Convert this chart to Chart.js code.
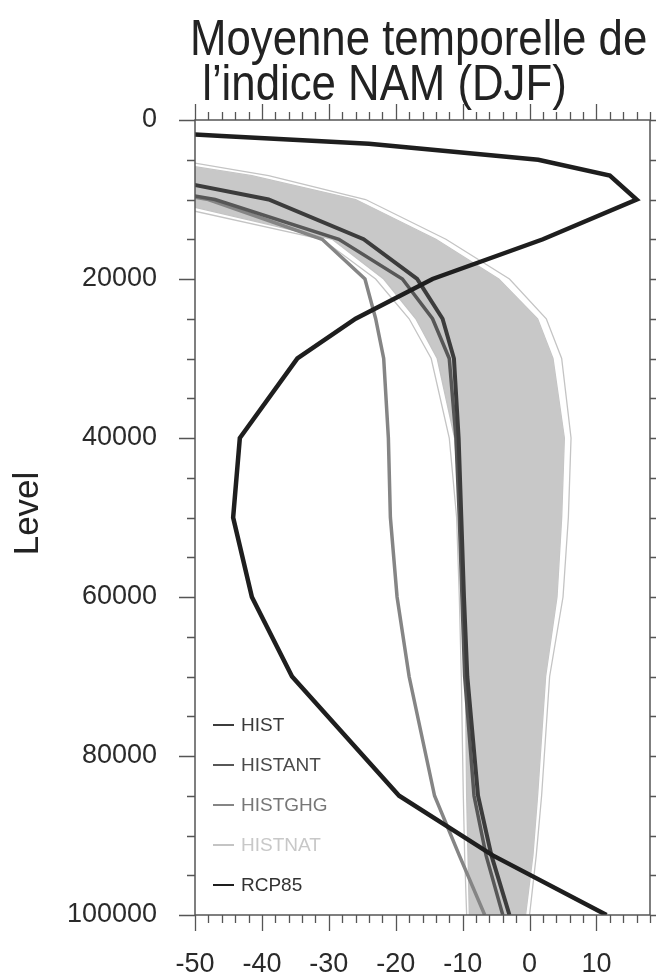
<!DOCTYPE html>
<html lang="fr">
<head>
<meta charset="UTF-8">
<title>Moyenne temporelle de l’indice NAM (DJF)</title>
<script src="https://cdn.jsdelivr.net/npm/chart.js"></script>
<style>
  body { margin: 0; background: #fff; }
  canvas { display: block; }
</style>
</head>
<body>
<canvas id="namChart" width="656" height="979"></canvas>
<script>
// --- data ---
const titleLines = ['Moyenne temporelle de', ' l’indice NAM (DJF)'];
const yTitle = 'Level';
const xTicks = [-50, -40, -30, -20, -10, 0, 10];
const yTicks = [0, 20000, 40000, 60000, 80000, 100000];
// pressure levels, top of the plot to bottom
const levels = [1000, 2000, 3000, 5000, 7000, 10000, 15000, 20000, 25000, 30000, 40000, 50000, 60000, 70000, 85000, 92500, 100000];

const rcp85   = [-70, -46, -24, 1.3, 12, 16, 2, -14.5, -26, -34.7, -43.3, -44.3, -41.5, -35.5, -19.5, -5.5, 11.5];
const hist    = [-105, -95, -85, -72, -57, -39, -24.8, -16.8, -13, -11.3, -10.6, -10.2, -9.8, -9.3, -7.7, -5.7, -3];
const histAnt = [-115, -105, -95, -82, -68, -47, -28.5, -19, -14.5, -12, -11, -10.5, -10.1, -9.7, -8.3, -6.5, -4];
const histGhg = [-118, -108, -98, -85, -70, -48, -31, -24.6, -23, -21.8, -21.1, -20.8, -19.8, -18, -14.2, -10.5, -6.7];

// HISTNAT members (light grey spread)
const nat01 = [-130, -120, -110, -95, -80, -58, -31, -23, -18, -14.7, -12, -10.9, -10.5, -10.2, -9.9, -9.7, -9.4];
const nat02 = [-127, -117, -107, -92, -77, -55, -29.5, -21.8, -17, -13.8, -11.2, -10.3, -9.9, -9.6, -9.4, -9.2, -9];
const nat03 = [-123, -113, -103, -88, -73, -51, -27.5, -20.5, -15.5, -12.5, -10, -9.1, -8.8, -8.6, -8.3, -8.1, -8];
const nat04 = [-120, -110, -100, -84, -69, -47, -26, -18.5, -13.6, -10.8, -8.4, -7.6, -7.3, -7.2, -6.9, -6.8, -7];
const nat05 = [-116, -106, -96, -80, -65, -43, -24, -16.5, -11.6, -8.8, -6.5, -5.8, -5.5, -5.6, -5.5, -5.5, -6];
const nat06 = [-112, -102, -92, -76, -61, -40, -22, -14.5, -9.5, -6.8, -4.6, -4, -3.8, -4, -4.1, -4.3, -5];
const nat07 = [-108, -98, -88, -72, -57, -37, -20.5, -12.5, -7.5, -4.8, -2.7, -2.2, -2.1, -2.5, -2.8, -3.2, -4];
const nat08 = [-105, -95, -85, -68, -53, -34, -19, -10.5, -5.4, -2.8, -0.8, -0.4, -0.4, -1, -1.4, -2, -3];
const nat09 = [-101, -91, -81, -64, -49, -31, -17.5, -8.5, -3.4, -0.8, 1.2, 1.5, 1.3, 0.4, -0.3, -1, -2];
const nat10 = [-97, -87, -77, -60, -45, -28.5, -16, -6.6, -1.2, 1.3, 3.3, 3.4, 2.9, 1.6, 0.6, -0.1, -1.2];
const nat11 = [-93, -83, -73, -56.5, -41.5, -26, -14, -4.6, 1.2, 3.5, 5.2, 4.8, 4.1, 2.4, 1.2, 0.5, -0.6];
const nat12 = [-90, -80, -70, -53, -39, -24.5, -12.5, -3, 2.5, 4.8, 6.2, 5.8, 5, 3, 1.8, 1, 0];
const natMembers = [nat01, nat02, nat03, nat04, nat05, nat06, nat07, nat08, nat09, nat10, nat11, nat12];

const legendOrder = ['HIST', 'HISTANT', 'HISTGHG', 'HISTNAT', 'RCP85'];

// --- styles ---
const colours = {
  HIST: '#3c3c3c',
  HISTANT: '#575757',
  HISTGHG: '#858585',
  HISTNAT: '#c4c4c4',
  RCP85: '#1e1e1e'
};
const legendText = {
  HIST: '#3a3a3a', HISTANT: '#4a4a4a', HISTGHG: '#777777', HISTNAT: '#c8c8c8', RCP85: '#333333'
};
const FONT = '"Liberation Sans", Arial, Helvetica, sans-serif';
Chart.defaults.font.family = FONT;

function profile(label, vals, width, order, extra) {
  return Object.assign({
    label: label,
    data: levels.map((p, i) => ({ x: vals[i], y: p })),
    borderColor: colours[label],
    borderWidth: width,
    pointRadius: 0,
    tension: 0,
    fill: false,
    order: order
  }, extra || {});
}

const datasets = [
  profile('RCP85', rcp85, 4.5, 0),
  profile('HIST', hist, 4, 1),
  profile('HISTANT', histAnt, 3.5, 2),
  profile('HISTGHG', histGhg, 3.5, 3)
];
const firstNat = datasets.length;
natMembers.forEach((m, k) => {
  const extra = {};
  // fill the spread between the 2nd and the 2nd-to-last member
  if (k === 1) {
    extra.fill = { target: firstNat + natMembers.length - 2 };
    extra.backgroundColor = '#c8c8c8';
  }
  datasets.push(profile('HISTNAT', m, 1.3, 10, extra));
});

// frame, minor/major ticks, title, axis title and in-plot legend
const decorations = {
  id: 'decorations',
  afterDraw(chart) {
    const { ctx, chartArea: a, scales: { x, y } } = chart;
    ctx.save();
    ctx.strokeStyle = '#555';
    ctx.lineWidth = 1.5;
    ctx.strokeRect(a.left, a.top, a.right - a.left, a.bottom - a.top);

    ctx.lineWidth = 1.3;
    ctx.beginPath();
    for (let v = x.min; v <= x.max; v += 2) {
      const px = Math.round(x.getPixelForValue(v)) + 0.5;
      const len = v % 10 === 0 ? 16 : 8;
      ctx.moveTo(px, a.top); ctx.lineTo(px, a.top - len);
      ctx.moveTo(px, a.bottom); ctx.lineTo(px, a.bottom + len);
    }
    for (let v = y.min; v <= y.max; v += 5000) {
      const py = Math.round(y.getPixelForValue(v)) + 0.5;
      const len = v % 20000 === 0 ? 16 : 8;
      ctx.moveTo(a.left, py); ctx.lineTo(a.left - len, py);
      ctx.moveTo(a.right, py); ctx.lineTo(a.right + len, py);
    }
    ctx.stroke();

    // title (the original lettering is a little condensed)
    ctx.fillStyle = '#222';
    ctx.font = '50px ' + FONT;
    ctx.textAlign = 'left';
    ctx.textBaseline = 'alphabetic';
    ctx.save();
    ctx.translate(190, 0);
    ctx.scale(0.875, 1);
    ctx.fillText(titleLines[0], 0, 55);
    ctx.fillText(titleLines[1], 0, 100);
    ctx.restore();

    // y axis title
    ctx.save();
    ctx.translate(38, (a.top + a.bottom) / 2 - 4);
    ctx.rotate(-Math.PI / 2);
    ctx.textAlign = 'center';
    ctx.font = '35px ' + FONT;
    ctx.fillText(yTitle, 0, 0);
    ctx.restore();

    // legend
    ctx.font = '19px ' + FONT;
    ctx.textBaseline = 'middle';
    legendOrder.forEach((name, i) => {
      const ly = a.bottom - 190 + i * 40;
      ctx.strokeStyle = colours[name];
      ctx.lineWidth = 2;
      ctx.beginPath();
      ctx.moveTo(a.left + 18, ly);
      ctx.lineTo(a.left + 39, ly);
      ctx.stroke();
      ctx.fillStyle = legendText[name];
      ctx.fillText(name, a.left + 46, ly + 1);
    });
    ctx.restore();
  }
};

new Chart(document.getElementById('namChart'), {
  type: 'line',
  data: { datasets: datasets },
  options: {
    responsive: false,
    animation: false,
    indexAxis: 'y',
    layout: { padding: { top: 120, right: 6, left: 0, bottom: 0 } },
    plugins: { legend: { display: false }, tooltip: { enabled: false } },
    scales: {
      x: {
        type: 'linear',
        position: 'bottom',
        min: -50,
        max: 18,
        afterBuildTicks: s => { s.ticks = xTicks.map(v => ({ value: v })); },
        afterFit: s => { s.height = 64; },
        grid: { display: false, drawTicks: false },
        border: { display: false },
        ticks: {
          padding: 33, color: '#2a2a2a', font: { size: 27 },
          maxRotation: 0, autoSkip: false, callback: v => String(v)
        }
      },
      y: {
        type: 'linear',
        position: 'left',
        reverse: true,
        min: 0,
        max: 100000,
        afterBuildTicks: s => { s.ticks = yTicks.map(v => ({ value: v })); },
        afterFit: s => { s.width = 195; },
        grid: { display: false, drawTicks: false },
        border: { display: false },
        ticks: {
          padding: 38, color: '#2a2a2a', font: { size: 27 },
          autoSkip: false, callback: v => String(v)
        }
      }
    }
  },
  plugins: [decorations]
});
</script>
</body>
</html>
